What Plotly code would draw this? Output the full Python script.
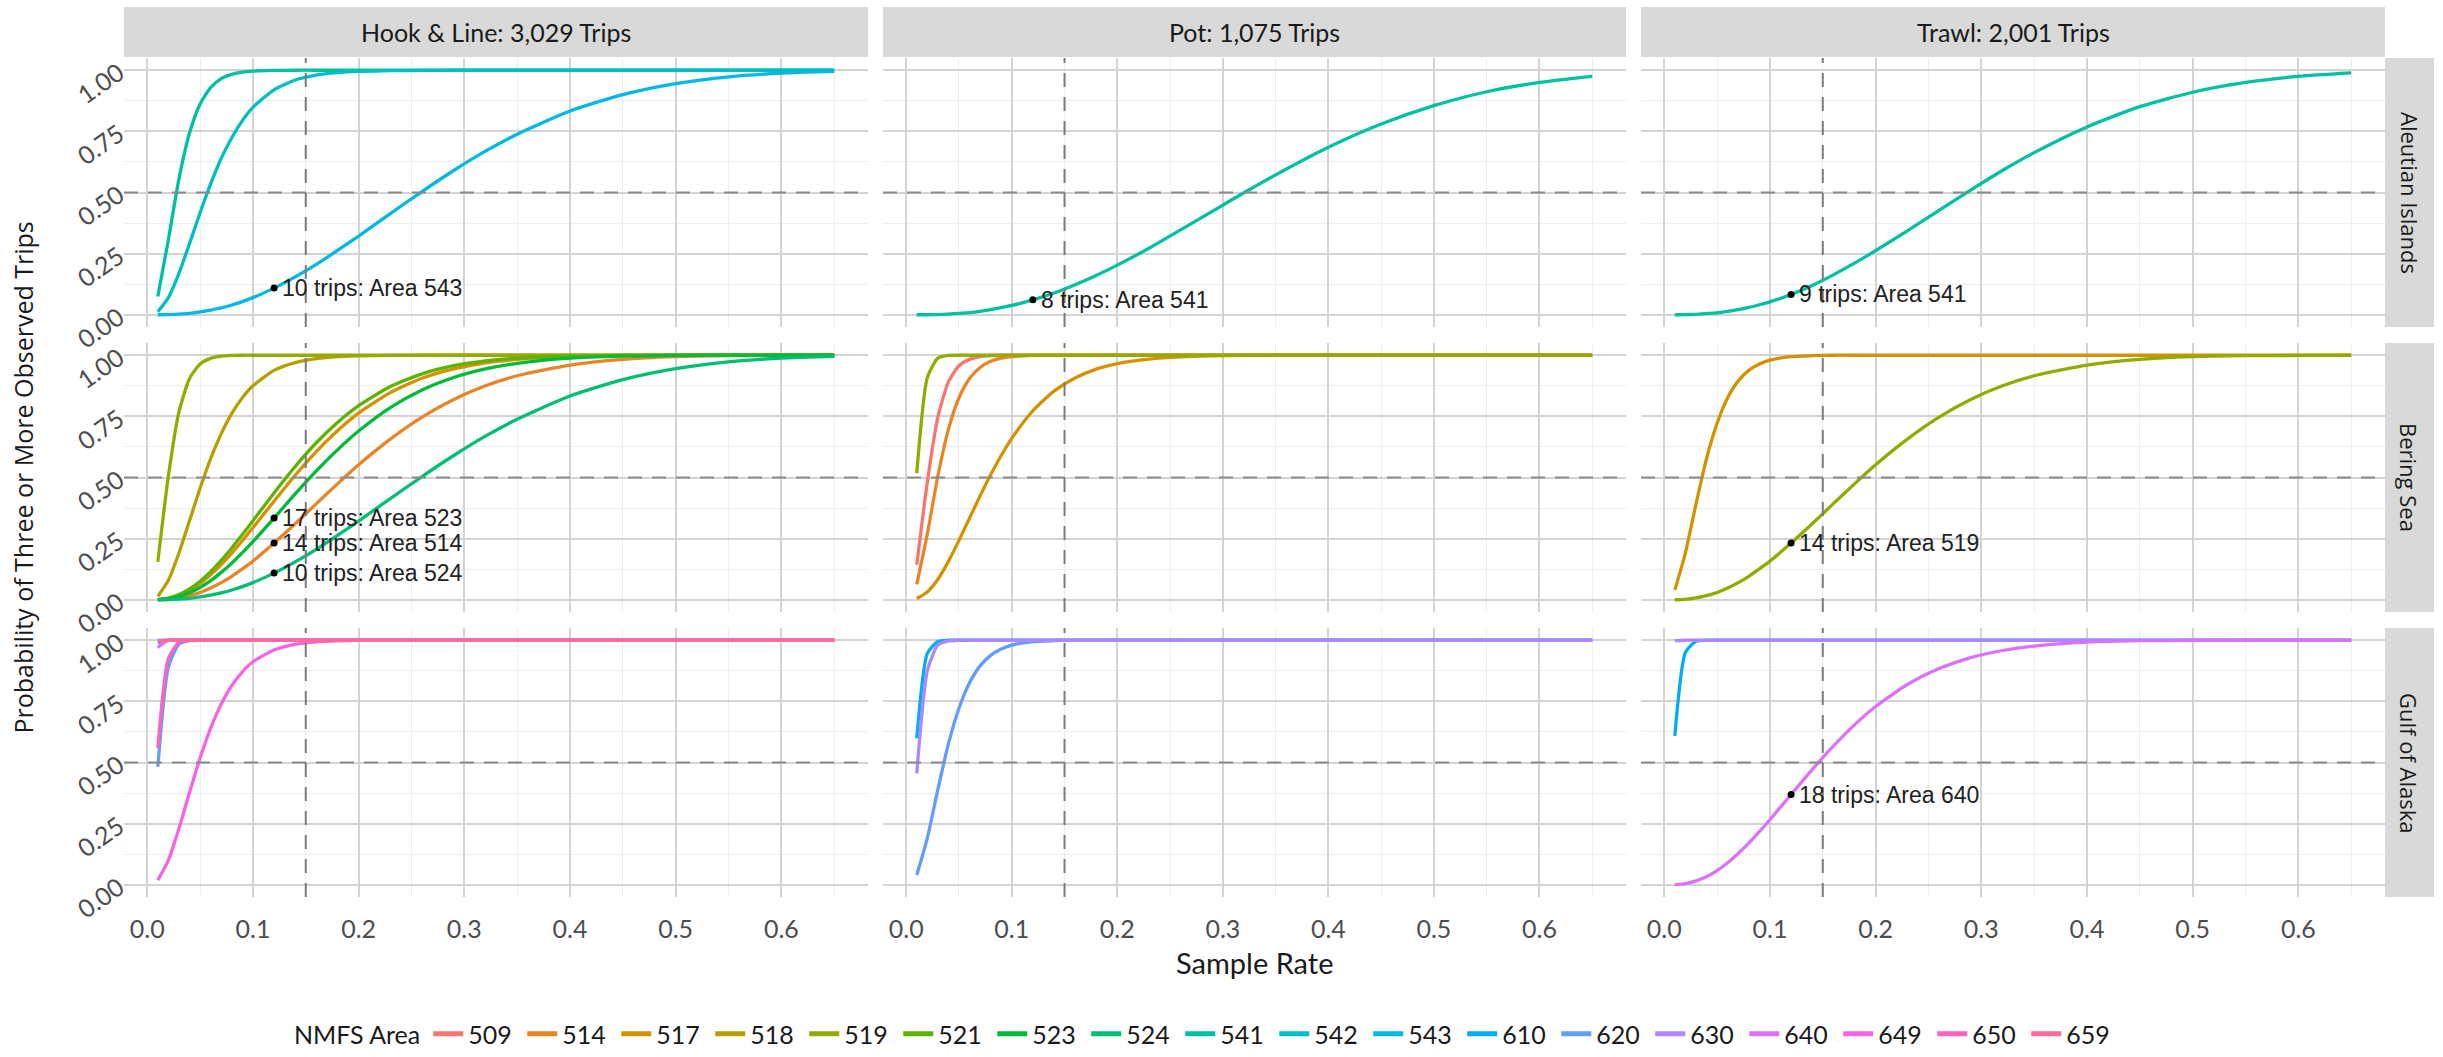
import math
import plotly.graph_objects as go

# ---------------- data ----------------
AREAS = ["509", "514", "517", "518", "519", "521", "523", "524", "541", "542",
         "543", "610", "620", "630", "640", "649", "650", "659"]
GEARS = ["Hook & Line", "Pot", "Trawl"]
GEAR_TRIPS = ["3,029", "1,075", "2,001"]
REGIONS = ["Aleutian Islands", "Bering Sea", "Gulf of Alaska"]

SAMPLE_RATE = [0.01, 0.02, 0.03, 0.04, 0.05, 0.06, 0.07, 0.08, 0.09, 0.10, 0.12, 0.14, 0.16,
               0.18, 0.20, 0.23, 0.26, 0.29, 0.32, 0.35, 0.40, 0.45, 0.50, 0.55, 0.60, 0.65]

# Aleutian Islands
HL_AI_541 = [0.075, 0.307, 0.556, 0.743, 0.862, 0.929, 0.966, 0.983, 0.992, 0.996, 0.999, 1, 1,
             1, 1, 1, 1, 1, 1, 1, 1, 1, 1, 1, 1, 1]
HL_AI_542 = [0.012, 0.070, 0.169, 0.291, 0.417, 0.535, 0.640, 0.724, 0.794, 0.848, 0.920, 0.960, 0.980,
             0.990, 0.995, 0.998, 0.999, 1, 1, 1, 1, 1, 1, 1, 1, 1]
HL_AI_543 = [0.000, 0.001, 0.003, 0.006, 0.012, 0.019, 0.028, 0.040, 0.054, 0.070, 0.109, 0.155, 0.206,
             0.263, 0.322, 0.414, 0.504, 0.590, 0.669, 0.738, 0.833, 0.900, 0.945, 0.973, 0.988, 0.995]
POT_AI_541 = [0.000, 0.000, 0.001, 0.003, 0.006, 0.009, 0.014, 0.021, 0.029, 0.038, 0.061, 0.089, 0.123,
              0.161, 0.203, 0.272, 0.347, 0.423, 0.499, 0.572, 0.685, 0.780, 0.855, 0.912, 0.950, 0.975]
TRAWL_AI_541 = [0.000, 0.001, 0.002, 0.005, 0.008, 0.014, 0.021, 0.030, 0.041, 0.053, 0.083, 0.120, 0.163,
                0.211, 0.262, 0.343, 0.427, 0.510, 0.590, 0.663, 0.768, 0.851, 0.910, 0.950, 0.975, 0.989]

# Bering Sea
HL_BS_514 = [0.000, 0.002, 0.008, 0.017, 0.030, 0.048, 0.070, 0.096, 0.126, 0.158, 0.232, 0.311, 0.393,
             0.474, 0.552, 0.657, 0.747, 0.819, 0.875, 0.916, 0.960, 0.983, 0.994, 0.998, 0.999, 1.000]
HL_BS_517 = [0.001, 0.006, 0.018, 0.038, 0.067, 0.102, 0.144, 0.191, 0.242, 0.295, 0.403, 0.509, 0.606,
             0.691, 0.763, 0.847, 0.906, 0.944, 0.969, 0.983, 0.995, 0.999, 1, 1, 1, 1]
HL_BS_518 = [0.014, 0.080, 0.191, 0.323, 0.456, 0.577, 0.679, 0.762, 0.826, 0.875, 0.938, 0.970, 0.986,
             0.994, 0.997, 0.999, 1, 1, 1, 1, 1, 1, 1, 1, 1, 1]
HL_BS_519 = [0.155, 0.506, 0.768, 0.905, 0.964, 0.987, 0.996, 0.999, 1, 1, 1, 1, 1,
             1, 1, 1, 1, 1, 1, 1, 1, 1, 1, 1, 1, 1]
HL_BS_521 = [0.001, 0.007, 0.021, 0.044, 0.076, 0.115, 0.161, 0.212, 0.267, 0.323, 0.437, 0.545, 0.642,
             0.725, 0.794, 0.872, 0.924, 0.957, 0.977, 0.988, 0.996, 0.999, 1, 1, 1, 1]
HL_BS_523 = [0.001, 0.004, 0.013, 0.029, 0.050, 0.078, 0.112, 0.150, 0.193, 0.238, 0.334, 0.433, 0.527,
             0.613, 0.690, 0.786, 0.858, 0.909, 0.944, 0.967, 0.988, 0.996, 0.999, 1, 1, 1]
HL_BS_524 = [0.000, 0.001, 0.003, 0.006, 0.012, 0.019, 0.028, 0.040, 0.054, 0.070, 0.109, 0.155, 0.206,
             0.263, 0.322, 0.414, 0.504, 0.590, 0.669, 0.738, 0.833, 0.900, 0.945, 0.973, 0.988, 0.995]
POT_BS_509 = [0.143, 0.482, 0.747, 0.891, 0.957, 0.983, 0.994, 0.998, 1, 1, 1, 1, 1,
              1, 1, 1, 1, 1, 1, 1, 1, 1, 1, 1, 1, 1]
POT_BS_514 = [0.063, 0.269, 0.506, 0.697, 0.826, 0.905, 0.950, 0.975, 0.988, 0.994, 0.999, 1, 1,
              1, 1, 1, 1, 1, 1, 1, 1, 1, 1, 1, 1, 1]
POT_BS_517 = [0.005, 0.032, 0.084, 0.157, 0.243, 0.334, 0.425, 0.511, 0.590, 0.660, 0.773, 0.853, 0.907,
              0.943, 0.966, 0.984, 0.993, 0.997, 0.999, 1, 1, 1, 1, 1, 1, 1]
POT_BS_519 = [0.518, 0.909, 0.988, 0.999, 1, 1, 1, 1, 1, 1, 1, 1, 1,
              1, 1, 1, 1, 1, 1, 1, 1, 1, 1, 1, 1, 1]
TRAWL_BS_517 = [0.040, 0.191, 0.390, 0.577, 0.722, 0.826, 0.895, 0.938, 0.964, 0.980, 0.994, 0.998, 1,
                1, 1, 1, 1, 1, 1, 1, 1, 1, 1, 1, 1, 1]
TRAWL_BS_519 = [0.000, 0.002, 0.008, 0.017, 0.030, 0.048, 0.070, 0.096, 0.126, 0.158, 0.232, 0.311, 0.393,
                0.474, 0.552, 0.657, 0.747, 0.819, 0.875, 0.916, 0.960, 0.983, 0.994, 0.998, 0.999, 1.000]

# Gulf of Alaska
HL_GOA_610 = [0.990, 1, 1, 1, 1, 1, 1, 1, 1, 1, 1, 1, 1, 1, 1, 1, 1, 1, 1, 1, 1, 1, 1, 1, 1, 1]
HL_GOA_620 = [0.482, 0.891, 0.984, 0.998, 1, 1, 1, 1, 1, 1, 1, 1, 1,
              1, 1, 1, 1, 1, 1, 1, 1, 1, 1, 1, 1, 1]
HL_GOA_630 = [1, 1, 1, 1, 1, 1, 1, 1, 1, 1, 1, 1, 1, 1, 1, 1, 1, 1, 1, 1, 1, 1, 1, 1, 1, 1]
HL_GOA_640 = [0.970, 1, 1, 1, 1, 1, 1, 1, 1, 1, 1, 1, 1, 1, 1, 1, 1, 1, 1, 1, 1, 1, 1, 1, 1, 1]
HL_GOA_649 = [0.019, 0.100, 0.230, 0.377, 0.518, 0.641, 0.739, 0.815, 0.871, 0.912, 0.960, 0.983, 0.993,
              0.997, 0.999, 1, 1, 1, 1, 1, 1, 1, 1, 1, 1, 1]
HL_GOA_650 = [0.560, 0.925, 0.991, 0.999, 1, 1, 1, 1, 1, 1, 1, 1, 1,
              1, 1, 1, 1, 1, 1, 1, 1, 1, 1, 1, 1, 1]
HL_GOA_659 = [0.995, 1, 1, 1, 1, 1, 1, 1, 1, 1, 1, 1, 1, 1, 1, 1, 1, 1, 1, 1, 1, 1, 1, 1, 1, 1]
POT_GOA_610 = [0.599, 0.946, 0.995, 1, 1, 1, 1, 1, 1, 1, 1, 1, 1,
               1, 1, 1, 1, 1, 1, 1, 1, 1, 1, 1, 1, 1]
POT_GOA_620 = [0.040, 0.191, 0.390, 0.577, 0.722, 0.826, 0.895, 0.938, 0.964, 0.980, 0.994, 0.998, 1,
               1, 1, 1, 1, 1, 1, 1, 1, 1, 1, 1, 1, 1]
POT_GOA_630 = [0.456, 0.875, 0.980, 0.997, 1, 1, 1, 1, 1, 1, 1, 1, 1,
               1, 1, 1, 1, 1, 1, 1, 1, 1, 1, 1, 1, 1]
TRAWL_GOA_610 = [0.609, 0.950, 0.996, 1, 1, 1, 1, 1, 1, 1, 1, 1, 1,
                 1, 1, 1, 1, 1, 1, 1, 1, 1, 1, 1, 1, 1]
TRAWL_GOA_630 = [0.998, 1, 1, 1, 1, 1, 1, 1, 1, 1, 1, 1, 1, 1, 1, 1, 1, 1, 1, 1, 1, 1, 1, 1, 1, 1]
TRAWL_GOA_640 = [0.001, 0.005, 0.016, 0.033, 0.058, 0.090, 0.128, 0.170, 0.217, 0.266, 0.369, 0.471, 0.567,
                 0.654, 0.729, 0.819, 0.884, 0.929, 0.958, 0.976, 0.992, 0.998, 0.999, 1, 1, 1]

# labelled curves: (gear, region, area, trips)
LABEL_RATE = 0.12
LABELS = [("Hook & Line", "Aleutian Islands", "543", 10),
          ("Pot", "Aleutian Islands", "541", 8),
          ("Trawl", "Aleutian Islands", "541", 9),
          ("Hook & Line", "Bering Sea", "523", 17),
          ("Hook & Line", "Bering Sea", "514", 14),
          ("Hook & Line", "Bering Sea", "524", 10),
          ("Trawl", "Bering Sea", "519", 14),
          ("Trawl", "Gulf of Alaska", "640", 18)]

THRESHOLD = 0.5
TARGET_RATE = 0.15

# table of curves built from the named arrays
CURVES = [
    ("Hook & Line", "Aleutian Islands", "541", HL_AI_541),
    ("Hook & Line", "Aleutian Islands", "542", HL_AI_542),
    ("Hook & Line", "Aleutian Islands", "543", HL_AI_543),
    ("Pot", "Aleutian Islands", "541", POT_AI_541),
    ("Trawl", "Aleutian Islands", "541", TRAWL_AI_541),
    ("Hook & Line", "Bering Sea", "514", HL_BS_514),
    ("Hook & Line", "Bering Sea", "517", HL_BS_517),
    ("Hook & Line", "Bering Sea", "518", HL_BS_518),
    ("Hook & Line", "Bering Sea", "519", HL_BS_519),
    ("Hook & Line", "Bering Sea", "521", HL_BS_521),
    ("Hook & Line", "Bering Sea", "523", HL_BS_523),
    ("Hook & Line", "Bering Sea", "524", HL_BS_524),
    ("Pot", "Bering Sea", "509", POT_BS_509),
    ("Pot", "Bering Sea", "514", POT_BS_514),
    ("Pot", "Bering Sea", "517", POT_BS_517),
    ("Pot", "Bering Sea", "519", POT_BS_519),
    ("Trawl", "Bering Sea", "517", TRAWL_BS_517),
    ("Trawl", "Bering Sea", "519", TRAWL_BS_519),
    ("Hook & Line", "Gulf of Alaska", "610", HL_GOA_610),
    ("Hook & Line", "Gulf of Alaska", "620", HL_GOA_620),
    ("Hook & Line", "Gulf of Alaska", "630", HL_GOA_630),
    ("Hook & Line", "Gulf of Alaska", "640", HL_GOA_640),
    ("Hook & Line", "Gulf of Alaska", "649", HL_GOA_649),
    ("Hook & Line", "Gulf of Alaska", "650", HL_GOA_650),
    ("Hook & Line", "Gulf of Alaska", "659", HL_GOA_659),
    ("Pot", "Gulf of Alaska", "610", POT_GOA_610),
    ("Pot", "Gulf of Alaska", "620", POT_GOA_620),
    ("Pot", "Gulf of Alaska", "630", POT_GOA_630),
    ("Trawl", "Gulf of Alaska", "610", TRAWL_GOA_610),
    ("Trawl", "Gulf of Alaska", "630", TRAWL_GOA_630),
    ("Trawl", "Gulf of Alaska", "640", TRAWL_GOA_640),
]


# ---------------- styling helpers ----------------
def hcl_hex(h, c=100.0, l=65.0):
    """ggplot2 / grDevices hcl() colour (CIE-Luv polar, D65, sRGB)."""
    xn, yn, zn = 95.047, 100.0, 108.883
    den = xn + 15 * yn + 3 * zn
    un, vn = 4 * xn / den, 9 * yn / den
    u = c * math.cos(math.radians(h))
    v = c * math.sin(math.radians(h))
    Y = yn * ((l + 16) / 116) ** 3
    up = u / (13 * l) + un
    vp = v / (13 * l) + vn
    X = Y * 9 * up / (4 * vp)
    Z = Y * (12 - 3 * up - 20 * vp) / (4 * vp)
    X, Y, Z = X / 100, Y / 100, Z / 100
    r = 3.240479 * X - 1.537150 * Y - 0.498535 * Z
    g = -0.969256 * X + 1.875992 * Y + 0.041556 * Z
    b = 0.055648 * X - 0.204043 * Y + 1.057311 * Z

    def gam(t):
        t = min(max(t, 0.0), 1.0)
        return 12.92 * t if t <= 0.0031308 else 1.055 * t ** (1 / 2.4) - 0.055
    return "#%02X%02X%02X" % tuple(int(round(255 * gam(t))) for t in (r, g, b))


COLORS = {a: hcl_hex(15 + 360.0 / len(AREAS) * i) for i, a in enumerate(AREAS)}

W, H = 2443, 1057
COL_PX = [(124, 868), (883, 1626), (1641, 2385)]
ROW_PX = [(58, 327), (343, 612), (628, 897)]
TOP_STRIP = (7, 57)
RIGHT_STRIP = (2385, 2434)

F_MAIN = "Lato"
F_SIDE = "Open Sans"
F_NOTE = "Liberation Sans"
TXT = "#1A1A1A"
TICK = "#4D4D4D"
GRID = "#D3D3D3"
GRID_MINOR = "#EDEDED"
STRIP = "#D9D9D9"


def px_x(p):
    return p / W


def px_y(p):
    return 1 - p / H


def sub(g, r):
    k = r * 3 + g + 1
    return "" if k == 1 else str(k)


fig = go.Figure()

# legend entries (in area order)
for a in AREAS:
    fig.add_trace(go.Scatter(x=[None], y=[None], mode="lines", name=a,
                             line=dict(color=COLORS[a], width=5), legendgroup=a,
                             showlegend=True, hoverinfo="skip"))

# curves, drawn in area order within each panel
for r, reg in enumerate(REGIONS):
    for g, gear in enumerate(GEARS):
        s = sub(g, r)
        panel = [cv for cv in CURVES if cv[0] == gear and cv[1] == reg]
        panel.sort(key=lambda cv: AREAS.index(cv[2]))
        for gear_, reg_, area, vals in panel:
            fig.add_trace(go.Scatter(
                x=SAMPLE_RATE, y=vals, mode="lines", name=area, legendgroup=area,
                showlegend=False, line=dict(color=COLORS[area], width=3.3, shape="spline", smoothing=0.6),
                xaxis="x" + s, yaxis="y" + s, hoverinfo="skip"))

# labelled points
annotations = []
li = SAMPLE_RATE.index(LABEL_RATE)
for gear, reg, area, trips in LABELS:
    g, r = GEARS.index(gear), REGIONS.index(reg)
    s = sub(g, r)
    vals = [cv[3] for cv in CURVES if cv[0] == gear and cv[1] == reg and cv[2] == area][0]
    yv = vals[li]
    fig.add_trace(go.Scatter(x=[LABEL_RATE], y=[yv], mode="markers", showlegend=False,
                             marker=dict(color="black", size=7), xaxis="x" + s, yaxis="y" + s,
                             hoverinfo="skip"))
    annotations.append(dict(x=LABEL_RATE, y=yv, xref="x" + s, yref="y" + s,
                            text=f"{trips} trips: Area {area}", showarrow=False,
                            xanchor="left", yanchor="middle", xshift=6,
                            font=dict(family=F_NOTE, size=23, color="#222222")))

layout = {}
shapes = []
for r in range(3):
    for g in range(3):
        s = sub(g, r)
        x0, x1 = COL_PX[g]
        y0, y1 = ROW_PX[r]
        layout["xaxis" + s] = dict(
            domain=[px_x(x0), px_x(x1)], anchor="y" + s, range=[-0.022, 0.682],
            tick0=0, dtick=0.1, tickformat=".1f", showticklabels=(r == 2),
            showgrid=True, gridcolor=GRID, gridwidth=1.8, zeroline=False, showline=False,
            ticks="", ticklabelstandoff=15, fixedrange=True, automargin=False,
            minor=dict(tick0=0.05, dtick=0.1, showgrid=True, gridcolor=GRID_MINOR, gridwidth=1),
            tickfont=dict(family=F_MAIN, size=25, color=TICK))
        layout["yaxis" + s] = dict(
            domain=[px_y(y1), px_y(y0)], anchor="x" + s, range=[-0.05, 1.05],
            tickvals=[0, 0.25, 0.5, 0.75, 1], ticktext=["0.00", "0.25", "0.50", "0.75", "1.00"],
            showticklabels=(g == 0), tickangle=-35, fixedrange=True, automargin=False,
            showgrid=True, gridcolor=GRID, gridwidth=1.8, zeroline=False, showline=False,
            ticks="", ticklabelstandoff=4,
            minor=dict(tickvals=[0.125, 0.375, 0.625, 0.875], showgrid=True, gridcolor=GRID_MINOR, gridwidth=1),
            tickfont=dict(family=F_MAIN, size=25, color=TICK))
        # reference lines (axis-referenced)
        shapes.append(dict(type="line", xref="x" + s, x0=-0.022, x1=0.682, yref="y" + s,
                           y0=THRESHOLD, y1=THRESHOLD, layer="above",
                           line=dict(color="#8A8A8A", width=2, dash="14px,10px")))
        shapes.append(dict(type="line", yref="y" + s, y0=-0.05, y1=1.05, xref="x" + s,
                           x0=TARGET_RATE, x1=TARGET_RATE, layer="above",
                           line=dict(color="#7A7A7A", width=2, dash="14px,10px")))

# strips
for g, gear in enumerate(GEARS):
    x0, x1 = COL_PX[g]
    shapes.append(dict(type="rect", xref="paper", yref="paper", x0=px_x(x0), x1=px_x(x1),
                       y0=px_y(TOP_STRIP[1]), y1=px_y(TOP_STRIP[0]), fillcolor=STRIP,
                       line=dict(width=0), layer="below"))
    annotations.append(dict(xref="paper", yref="paper", x=px_x((x0 + x1) / 2), y=px_y(sum(TOP_STRIP) / 2),
                            text=f"{gear}: {GEAR_TRIPS[g]} Trips", showarrow=False,
                            xanchor="center", yanchor="middle",
                            font=dict(family=F_MAIN, size=25, color=TXT)))
for r, reg in enumerate(REGIONS):
    y0, y1 = ROW_PX[r]
    shapes.append(dict(type="rect", xref="paper", yref="paper", x0=px_x(RIGHT_STRIP[0]), x1=px_x(RIGHT_STRIP[1]),
                       y0=px_y(y1), y1=px_y(y0), fillcolor=STRIP, line=dict(width=0), layer="below"))
    annotations.append(dict(xref="paper", yref="paper", x=px_x(sum(RIGHT_STRIP) / 2), y=px_y((y0 + y1) / 2),
                            text=reg, showarrow=False, textangle=90, xanchor="center", yanchor="middle",
                            font=dict(family=F_SIDE, size=22, color=TXT)))

# axis titles
annotations.append(dict(xref="paper", yref="paper", x=px_x((COL_PX[0][0] + COL_PX[2][1]) / 2), y=px_y(962),
                        text="Sample Rate", showarrow=False, xanchor="center", yanchor="middle",
                        font=dict(family=F_MAIN, size=29, color=TXT)))
annotations.append(dict(xref="paper", yref="paper", x=px_x(22), y=px_y((ROW_PX[0][0] + ROW_PX[2][1]) / 2),
                        text="Probability of Three or More Observed Trips", showarrow=False, textangle=-90,
                        xanchor="center", yanchor="middle",
                        font=dict(family=F_SIDE, size=25, color=TXT)))

fig.update_layout(
    width=W, height=H, margin=dict(l=0, r=0, t=0, b=0, autoexpand=False), autosize=False,
    paper_bgcolor="white", plot_bgcolor="white",
    showlegend=True, hovermode=False,
    legend=dict(orientation="h", x=px_x(292), xanchor="left", y=0, yanchor="bottom",
                title=dict(text="NMFS Area", side="left", font=dict(family=F_MAIN, size=25, color=TXT)),
                font=dict(family=F_MAIN, size=25, color=TXT), entrywidth=49, entrywidthmode="pixels",
                bgcolor="rgba(0,0,0,0)", tracegroupgap=0, itemclick=False, itemdoubleclick=False),
    shapes=shapes, annotations=annotations, **layout)

PAGE_CSS = ("var s=document.createElement('style');"
            "s.textContent='html,body{margin:0;padding:0;overflow:hidden;width:2443px;height:1057px;}';"
            "document.head.appendChild(s);")

fig.write_html("out.html", config={"displayModeBar": False, "responsive": False},
               post_script=PAGE_CSS)
